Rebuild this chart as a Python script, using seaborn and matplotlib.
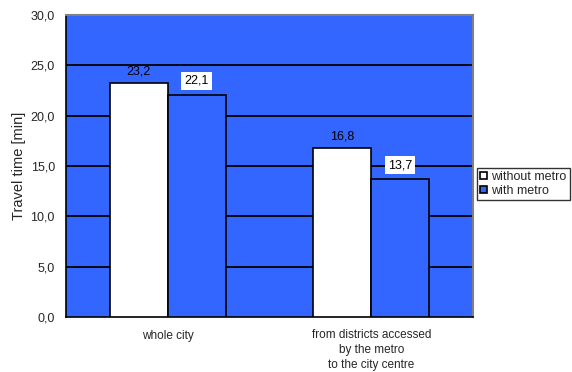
import matplotlib
matplotlib.use("Agg")
import matplotlib.pyplot as plt
import seaborn as sns
import pandas as pd
from matplotlib.patches import Patch

categories = ["whole city", "from districts accessed\nby the metro\nto the city centre"]
series_names = ["without metro", "with metro"]
without_metro = [23.2, 16.8]
with_metro = [22.1, 13.7]
y_ticks = [0, 5, 10, 15, 20, 25, 30]

BLUE = "#3366FF"
FS = 8.5
FS_NUM = 9

sns.set_theme(style="white")
plt.rcParams["font.family"] = ["Liberation Sans", "DejaVu Sans"]

df = pd.DataFrame({
    "category": categories * 2,
    "series": [series_names[0]] * 2 + [series_names[1]] * 2,
    "value": without_metro + with_metro,
})

fig = plt.figure(figsize=(5.72, 3.72), dpi=100)
ax = fig.add_axes([66 / 572, 1 - 317 / 372, (473 - 66) / 572, (317 - 15) / 372])
ax.set_facecolor(BLUE)

sns.barplot(data=df, x="category", y="value", hue="series", order=categories,
            hue_order=series_names, palette=["white", BLUE], width=0.57, gap=0,
            edgecolor="black", linewidth=1.2, saturation=1, legend=False, ax=ax, zorder=3)

ax.set_ylim(0, 30)
ax.set_xlim(-0.5, 1.5)
ax.set_yticks(y_ticks)
ax.set_yticklabels([f"{v:.1f}".replace(".", ",") for v in y_ticks], fontsize=FS_NUM)
for v in y_ticks[1:-1]:
    ax.axhline(v, color="black", linewidth=1.3, zorder=1)

ax.set_xticks([0, 1])
ax.set_xticklabels(categories, fontsize=FS, linespacing=1.3)
ax.tick_params(axis="x", which="major", length=0, pad=9)
ax.set_xticks([-0.5, 0.5, 1.5], minor=True)
ax.tick_params(axis="x", which="minor", length=4, width=1, color="black", direction="out")
ax.tick_params(axis="y", length=5, width=1, color="black", direction="out", pad=3)
ax.set_xlabel("")
ax.set_ylabel("Travel time [min]", fontsize=10.5, labelpad=3)

for side in ["left", "bottom"]:
    ax.spines[side].set_color("black")
    ax.spines[side].set_linewidth(1.2)
for side in ["top", "right"]:
    ax.spines[side].set_color("#808080")
    ax.spines[side].set_linewidth(1.5)

# value labels: white-bar values sit on the background, blue-bar values in white boxes
for container, boxed in zip(ax.containers, [False, True]):
    for bar in container:
        h = bar.get_height()
        x = bar.get_x() + bar.get_width() / 2
        txt = f"{h:.1f}".replace(".", ",")
        kw = dict(boxstyle="square,pad=0.25", facecolor="white", edgecolor="none") if boxed else None
        ax.annotate(txt, (x, h), xytext=(0, 8.5 if not boxed else 10), textcoords="offset points",
                    ha="center", va="center", fontsize=FS_NUM, color="black", bbox=kw, zorder=5)

handles = [Patch(facecolor="white", edgecolor="black", linewidth=1.2),
           Patch(facecolor=BLUE, edgecolor="black", linewidth=1.2)]
leg = fig.legend(handles, series_names, loc="upper left", bbox_to_anchor=(477 / 572, 1 - 168 / 372),
                 fontsize=FS_NUM, frameon=True, fancybox=False, handlelength=0.55, handleheight=0.55,
                 handletextpad=0.35, borderpad=0.25, labelspacing=0.15, borderaxespad=0)
leg.get_frame().set_edgecolor("black")
leg.get_frame().set_linewidth(1.0)

fig.savefig("out.png", dpi=100)
